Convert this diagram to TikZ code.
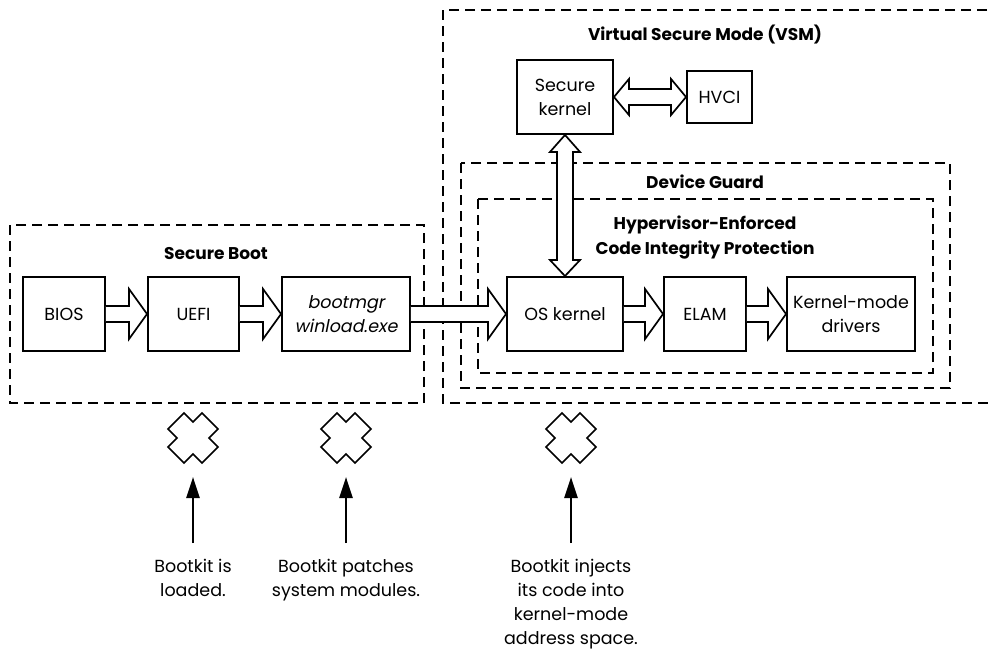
\documentclass[tikz,border=0pt]{standalone}
\usepackage{fontspec}
\setmainfont{Poppins}
\newfontfamily\slfont{Poppins}[FakeSlant=0.2]
\usetikzlibrary{calc,arrows.meta}
\newcommand\bodyfont{\fontsize{17.5}{24}\selectfont}
\newcommand\headfont{\fontsize{17}{25}\selectfont\bfseries}
\tikzset{
  x=1pt, y=-1pt,
  box/.style={draw, line width=1.9pt, fill=white, minimum height=74pt, align=center, inner sep=0pt, font=\bodyfont},
  zone/.style={draw, line width=2pt, dash pattern=on 10pt off 6pt},
  lbl/.style={align=center, inner sep=0pt, font=\headfont},
  note/.style={align=center, inner sep=0pt, font=\bodyfont, anchor=north},
  barrow/.style={draw, fill=white, line width=1.7pt, line join=miter},
  ptr/.style={line width=2.4pt, -{Triangle[length=21pt,width=13pt]}},
  crossline/.style={draw, line width=1.5pt, line join=miter},
}
\newcommand\harrow[2]{\draw[barrow] ($(#1.east)+(0,-8)$) -- ($(#2.west)+(-18,-8)$) -- ($(#2.west)+(-18,-25)$) -- (#2.west) -- ($(#2.west)+(-18,25)$) -- ($(#2.west)+(-18,8)$) -- ($(#1.east)+(0,8)$);}
\newcommand\xcross[3]{\coordinate (#1) at (#2,#3);
  \draw[crossline, shift={(#1)}] (-9,-25) -- (0,-16) -- (9,-25) -- (25,-9) -- (16,0) -- (25,9) -- (9,25) -- (0,16) -- (-9,25) -- (-25,9) -- (-16,0) -- (-25,-9) -- cycle;}
\begin{document}
\begin{tikzpicture}
\useasboundingbox[fill=white] (0,0) rectangle (991,653);
% dashed zones
\draw[zone] (10,225) rectangle (424,403);
\begin{scope}
  \clip (0,0) rectangle (991,653);
  \draw[zone] (443,10) rectangle (1010,403);
\end{scope}
\draw[zone] (461,163) rectangle (950,388);
\draw[zone] (478,199) rectangle (933,373);
% zone labels
\node[lbl] (sbl) at (216,254) {Secure Boot};
\node[lbl] (vsml) at (705,35) {Virtual Secure Mode (VSM)};
\node[lbl] (dgl) at (705,182) {Device Guard};
\node[lbl] (hvl) at (705,238) {Hypervisor-Enforced\\Code Integrity Protection};
% boxes
\node[box, minimum width=82pt] (bios) at (64,314) {BIOS};
\node[box, minimum width=91pt] (uefi) at (193.5,314) {UEFI};
\node[box, minimum width=128pt, font=\bodyfont\slfont] (boot) at (346,314) {bootmgr\\winload.exe};
\node[box, minimum width=116pt] (os) at (565,314) {OS kernel};
\node[box, minimum width=82pt] (elam) at (705,314) {ELAM};
\node[box, minimum width=128pt] (kmd) at (851,314) {Kernel-mode\\drivers};
\node[box, minimum width=96pt] (sk) at (565,97) {Secure\\kernel};
\node[box, minimum width=65pt, minimum height=52pt] (hvci) at (719.5,97) {HVCI};
% block arrows
\harrow{bios}{uefi}
\harrow{uefi}{boot}
\harrow{boot}{os}
\harrow{os}{elam}
\harrow{elam}{kmd}
\draw[barrow] (sk.east) -- ($(sk.east)+(15,-18)$) -- ($(sk.east)+(15,-8)$) -- ($(hvci.west)+(-15,-8)$) -- ($(hvci.west)+(-15,-18)$) -- (hvci.west) -- ($(hvci.west)+(-15,18)$) -- ($(hvci.west)+(-15,8)$) -- ($(sk.east)+(15,8)$) -- ($(sk.east)+(15,18)$) -- cycle;
\draw[barrow] (sk.south) -- ($(sk.south)+(-15,17)$) -- ($(sk.south)+(-8,17)$) -- ($(os.north)+(-8,-16)$) -- ($(os.north)+(-15,-16)$) -- (os.north) -- ($(os.north)+(15,-16)$) -- ($(os.north)+(8,-16)$) -- ($(sk.south)+(8,17)$) -- ($(sk.south)+(15,17)$) -- cycle;
% crosses
\xcross{c1}{193}{438}
\xcross{c2}{346}{438}
\xcross{c3}{571}{438}
% notes
\node[note] (n1) at (193,559) {Bootkit is\\loaded.};
\node[note] (n2) at (346,559) {Bootkit patches\\system modules.};
\node[note] (n3) at (571,559) {Bootkit injects\\its code into\\kernel-mode\\address space.};
\draw[ptr, shorten <=16pt, shorten >=39pt] (n1.north) -- (c1);
\draw[ptr, shorten <=16pt, shorten >=39pt] (n2.north) -- (c2);
\draw[ptr, shorten <=16pt, shorten >=39pt] (n3.north) -- (c3);
\end{tikzpicture}
\end{document}
